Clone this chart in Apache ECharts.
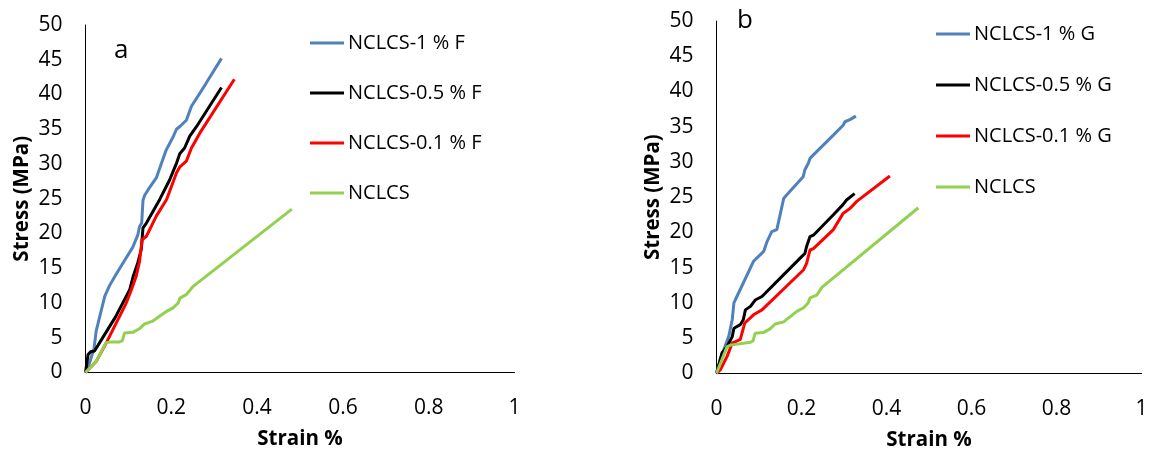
<!DOCTYPE html>
<html>
<head>
<meta charset="utf-8">
<script src="https://cdn.jsdelivr.net/npm/echarts@6/dist/echarts.min.js"></script>
<style>
html,body{margin:0;padding:0;background:#fff;}
#c{width:1150px;height:452px;}
</style>
</head>
<body>
<div id="c"></div>
<script>
// ---- data ----
const xTicks = [0, 0.2, 0.4, 0.6, 0.8, 1];
const yTicks = [0, 5, 10, 15, 20, 25, 30, 35, 40, 45, 50];

const namesA = ['NCLCS-1 % F', 'NCLCS-0.5 % F', 'NCLCS-0.1 % F', 'NCLCS'];
const namesB = ['NCLCS-1 % G', 'NCLCS-0.5 % G', 'NCLCS-0.1 % G', 'NCLCS'];

const aBlue = [[0,0],[0.01,1.5],[0.02,3.5],[0.025,6],[0.035,8.5],[0.045,11],[0.056,12.5],[0.07,14],[0.09,16],[0.11,18],[0.122,19.8],[0.126,21],[0.131,21.5],[0.134,24.8],[0.138,25.5],[0.146,26.3],[0.165,28],[0.188,32],[0.205,34],[0.212,35],[0.22,35.4],[0.235,36.3],[0.247,38.3],[0.28,41.5],[0.317,45.2]];
const aBlack = [[0,0],[0.006,2.6],[0.012,3],[0.021,3.1],[0.033,4.3],[0.07,8],[0.103,11.9],[0.111,13.8],[0.122,15.8],[0.130,17.7],[0.134,20.8],[0.142,21.5],[0.173,24.9],[0.196,27.7],[0.212,30.1],[0.22,31.5],[0.231,32.3],[0.243,34],[0.259,35.4],[0.317,41.0]];
const aRed = [[0,0],[0.025,1.6],[0.048,4.2],[0.056,5.2],[0.095,10],[0.107,11.9],[0.118,13.8],[0.126,16],[0.132,19.1],[0.142,19.6],[0.165,22.5],[0.189,24.9],[0.212,28.7],[0.22,29.6],[0.235,30.4],[0.247,32.3],[0.266,34.4],[0.347,42.2]];
const aGreen = [[0,0],[0.025,1.6],[0.048,4.3],[0.059,4.4],[0.079,4.4],[0.086,4.6],[0.091,5.7],[0.111,5.8],[0.126,6.3],[0.138,7.0],[0.157,7.4],[0.189,8.8],[0.204,9.3],[0.216,10],[0.22,10.7],[0.235,11.2],[0.251,12.4],[0.481,23.5]];

const bBlue = [[0,0],[0.009,2],[0.029,5.3],[0.037,7.6],[0.041,10],[0.048,10.9],[0.087,15.9],[0.099,16.6],[0.111,17.3],[0.119,18.7],[0.13,20.1],[0.142,20.4],[0.158,24.8],[0.165,25.3],[0.204,27.9],[0.208,28.9],[0.216,29.8],[0.22,30.5],[0.228,31],[0.275,33.8],[0.298,35.2],[0.302,35.7],[0.314,36],[0.328,36.5]];
const bBlack = [[0,0],[0.013,2.9],[0.025,3.8],[0.037,5.2],[0.041,6.4],[0.045,6.6],[0.056,6.9],[0.063,7.6],[0.068,9],[0.08,9.5],[0.091,10.4],[0.107,10.9],[0.15,13.5],[0.201,16.6],[0.208,17.0],[0.212,18.0],[0.22,19.4],[0.228,19.6],[0.275,22.5],[0.297,23.9],[0.306,24.6],[0.325,25.5]];
const bRed = [[0,0],[0.009,0.5],[0.025,2.4],[0.037,4.3],[0.045,4.5],[0.056,4.8],[0.064,6.6],[0.066,7.1],[0.087,8.3],[0.107,9.0],[0.205,14.7],[0.212,15.6],[0.22,17.5],[0.228,17.7],[0.275,20.4],[0.298,22.7],[0.314,23.4],[0.33,24.4],[0.408,28]];
const bGreen = [[0,0],[0.025,3.8],[0.033,4.0],[0.08,4.4],[0.086,4.6],[0.091,5.7],[0.111,5.8],[0.126,6.3],[0.138,7.0],[0.158,7.3],[0.189,8.8],[0.205,9.3],[0.216,10],[0.22,10.7],[0.236,11.1],[0.248,12.2],[0.475,23.5]];

const colors = ['#4F81BD', '#000000', '#FF0000', '#92D050'];
const FONT = 'Open Sans';

function xAxis(gi) {
  return {
    type: 'value', gridIndex: gi,
    min: xTicks[0], max: xTicks[xTicks.length - 1], interval: xTicks[1] - xTicks[0],
    name: 'Strain %', nameLocation: 'middle', nameGap: 56,
    nameTextStyle: {fontFamily: FONT, fontWeight: 'bold', fontSize: 20.5, color: '#000'},
    axisLine: {show: true, lineStyle: {color: '#000', width: 1}},
    axisTick: {show: false}, splitLine: {show: false},
    axisLabel: {fontFamily: FONT, fontSize: 21, color: '#000', margin: 25}
  };
}
function yAxis(gi) {
  return {
    type: 'value', gridIndex: gi,
    min: yTicks[0], max: yTicks[yTicks.length - 1], interval: yTicks[1] - yTicks[0],
    name: 'Stress (MPa)', nameLocation: 'middle', nameGap: 53, nameRotate: 90,
    nameTextStyle: {fontFamily: FONT, fontWeight: 'bold', fontSize: 20.5, color: '#000'},
    axisLine: {show: true, lineStyle: {color: '#000', width: 1}},
    axisTick: {show: false}, splitLine: {show: false},
    axisLabel: {fontFamily: FONT, fontSize: 21, color: '#000', margin: 23, padding: [7, 0, 0, 0]}
  };
}
function ser(name, data, ci, gi) {
  return {
    type: 'line', name: name, data: data, xAxisIndex: gi, yAxisIndex: gi,
    showSymbol: false, symbol: 'none', smooth: false,
    lineStyle: {color: colors[ci], width: 3}, itemStyle: {color: colors[ci]},
    animation: false
  };
}
function legend(names, left, top, gap) {
  return {
    orient: 'vertical', left: left, top: top, itemGap: gap, padding: 0,
    icon: 'rect', itemWidth: 34, itemHeight: 3,
    textStyle: {fontFamily: FONT, fontSize: 20, color: '#000', padding: [0, 0, 0, -1]},
    data: names.map((n, i) => ({name: n, itemStyle: {color: colors[i]}})),
    selectedMode: false
  };
}

const seriesA = [aBlue, aBlack, aRed, aGreen];
const seriesB = [bBlue, bBlack, bRed, bGreen];

const chart = echarts.init(document.getElementById('c'), null, {renderer: 'canvas'});
chart.setOption({
  animation: false,
  backgroundColor: '#fff',
  grid: [
    {left: 85.5, top: 25, width: 429, height: 347.5, containLabel: false, outerBoundsMode: 'none'},
    {left: 716.5, top: 21, width: 425, height: 352.3, containLabel: false, outerBoundsMode: 'none'}
  ],
  xAxis: [xAxis(0), xAxis(1)],
  yAxis: [yAxis(0), yAxis(1)],
  legend: [
    legend(namesA, 310, 33, 30),
    legend(namesB, 936, 24, 31)
  ],
  graphic: [
    {type: 'text', left: 114, top: 38, style: {text: 'a', fontFamily: FONT, fontSize: 26, fill: '#000'}},
    {type: 'text', left: 737, top: 8, style: {text: 'b', fontFamily: FONT, fontSize: 26, fill: '#000'}}
  ],
  series: [
    ...seriesA.map((d, i) => ser(namesA[i], d, i, 0)),
    ...seriesB.map((d, i) => ser(namesB[i], d, i, 1))
  ]
});
</script>
</body>
</html>
